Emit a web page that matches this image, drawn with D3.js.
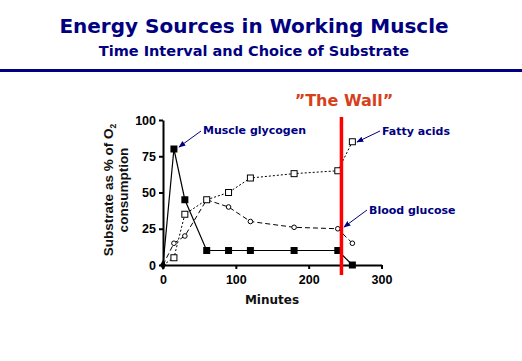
<!DOCTYPE html>
<html>
<head>
<meta charset="utf-8">
<script src="https://cdn.jsdelivr.net/npm/d3@7"></script>
<style>
  body { margin: 0; background: #fff; }
  svg { display: block; }
</style>
</head>
<body>
<div id="chart"></div>
<script>
const width = 522, height = 361;

// time points (minutes)
const minutes = [0, 15, 30, 60, 90, 120, 180, 240, 260];
const muscleGlycogen = [0, 80, 45, 10, 10, 10, 10, 10, 0];
const fattyAcids = [0, 5, 35, 45, 50, 60, 63, 65, 85];
const bloodGlucose = [0, 15, 20, 45, 40, 30, 26, 25, 15];
const xTicks = [0, 100, 200, 300];
const yTicks = [0, 25, 50, 75, 100];
const wallMinute = 245;

const svg = d3.select("#chart")
  .append("svg")
    .attr("width", width)
    .attr("height", height)
    .attr("viewBox", [0, 0, width, height]);

// header
svg.append("text")
  .attr("x", 254).attr("y", 33)
  .attr("text-anchor", "middle")
  .attr("font-family", "DejaVu Sans, Verdana, sans-serif")
  .attr("font-weight", "bold")
  .attr("font-size", 20)
  .attr("fill", "#000080")
  .text("Energy Sources in Working Muscle");

svg.append("text")
  .attr("x", 254).attr("y", 56)
  .attr("text-anchor", "middle")
  .attr("font-family", "DejaVu Sans, Verdana, sans-serif")
  .attr("font-weight", "bold")
  .attr("font-size", 14.5)
  .attr("fill", "#000080")
  .text("Time Interval and Choice of Substrate");

svg.append("rect")
  .attr("x", 0).attr("y", 69)
  .attr("width", width).attr("height", 3)
  .attr("fill", "#000080");

const xScale = d3.scaleLinear()
  .domain([0, 300])
  .range([163, 381.5]);

const yScale = d3.scaleLinear()
  .domain([0, 100])
  .range([265, 120]);

const axisFont = "Liberation Sans, Arial, sans-serif";

// axes
const bottomAxis = d3.axisBottom(xScale)
  .tickValues(xTicks)
  .tickSize(4)
  .tickSizeOuter(0);

const gx = svg.append("g")
  .attr("transform", `translate(0, ${yScale(0)})`)
  .call(bottomAxis);

const leftAxis = d3.axisLeft(yScale)
  .tickValues(yTicks)
  .tickSize(4)
  .tickSizeOuter(0);

const gy = svg.append("g")
  .attr("transform", `translate(${xScale(0)}, 0)`)
  .call(leftAxis);

[gx, gy].forEach(g => {
  g.select(".domain").attr("stroke", "#000").attr("stroke-width", 2);
  g.selectAll(".tick line").attr("stroke", "#000").attr("stroke-width", 2);
  g.selectAll(".tick text")
    .attr("font-family", axisFont)
    .attr("font-weight", "bold")
    .attr("font-size", 12.5)
    .attr("fill", "#000");
});
gx.selectAll(".tick text").attr("dy", "0.95em");
gy.selectAll(".tick text").attr("x", -7);

svg.append("text")
  .attr("x", 272).attr("y", 304)
  .attr("text-anchor", "middle")
  .attr("font-family", "DejaVu Sans, Verdana, sans-serif")
  .attr("font-weight", "bold")
  .attr("font-size", 12)
  .attr("fill", "#111")
  .text("Minutes");

// y title, two lines
const yTitle = svg.append("text")
  .attr("transform", "translate(113, 190) rotate(-90)")
  .attr("text-anchor", "middle")
  .attr("font-family", axisFont)
  .attr("font-weight", "bold")
  .attr("font-size", 13.5)
  .attr("fill", "#111");
yTitle.append("tspan").attr("x", 0).attr("y", 0).text("Substrate as % of O");
yTitle.append("tspan").attr("font-size", 8.5).attr("dy", 3).text("2");
yTitle.append("tspan").attr("x", 0).attr("y", 15).text("consumption");

// lines
const rows = minutes.map((m, i) => ({
  m, glycogen: muscleGlycogen[i], fatty: fattyAcids[i], glucose: bloodGlucose[i]
}));

const lineFor = key => d3.line()
  .x(d => xScale(d.m))
  .y(d => yScale(d[key]));

svg.append("path")
  .datum(rows)
  .attr("d", lineFor("fatty"))
  .attr("fill", "none")
  .attr("stroke", "#000")
  .attr("stroke-width", 1)
  .attr("stroke-dasharray", "2,2");

svg.append("path")
  .datum(rows)
  .attr("d", lineFor("glucose"))
  .attr("fill", "none")
  .attr("stroke", "#000")
  .attr("stroke-width", 1)
  .attr("stroke-dasharray", "5,3");

svg.append("path")
  .datum(rows)
  .attr("d", lineFor("glycogen"))
  .attr("fill", "none")
  .attr("stroke", "#000")
  .attr("stroke-width", 1.2);

// markers
svg.selectAll(".glucose-pt")
  .data(rows.slice(1))
  .join("circle")
    .attr("class", "glucose-pt")
    .attr("cx", d => xScale(d.m))
    .attr("cy", d => yScale(d.glucose))
    .attr("r", 2.3)
    .attr("fill", "#fff")
    .attr("stroke", "#000")
    .attr("stroke-width", 1);

svg.selectAll(".fatty-pt")
  .data(rows.slice(1))
  .join("rect")
    .attr("class", "fatty-pt")
    .attr("x", d => xScale(d.m) - 3)
    .attr("y", d => yScale(d.fatty) - 3)
    .attr("width", 6)
    .attr("height", 6)
    .attr("fill", "#fff")
    .attr("stroke", "#000")
    .attr("stroke-width", 1);

svg.selectAll(".glycogen-pt")
  .data(rows.slice(1))
  .join("rect")
    .attr("class", "glycogen-pt")
    .attr("x", d => xScale(d.m) - 3.5)
    .attr("y", d => yScale(d.glycogen) - 3.5)
    .attr("width", 7)
    .attr("height", 7)
    .attr("fill", "#000");

// origin point
svg.append("path")
  .attr("d", d3.symbol(d3.symbolDiamond, 30)())
  .attr("transform", `translate(${xScale(0)}, ${yScale(0)})`)
  .attr("fill", "#000");

// the wall
svg.append("line")
  .attr("x1", xScale(wallMinute)).attr("x2", xScale(wallMinute))
  .attr("y1", 117).attr("y2", 275)
  .attr("stroke", "#ff0000")
  .attr("stroke-width", 3.5);

svg.append("text")
  .attr("x", 344).attr("y", 106)
  .attr("text-anchor", "middle")
  .attr("font-family", "DejaVu Sans, Verdana, sans-serif")
  .attr("font-weight", "bold")
  .attr("font-size", 16)
  .attr("fill", "#d8401a")
  .text("\u201DThe Wall\u201D");

// annotations with arrows
svg.append("defs").append("marker")
  .attr("id", "arrow")
  .attr("viewBox", "0 0 10 10")
  .attr("refX", 9).attr("refY", 5)
  .attr("markerWidth", 7).attr("markerHeight", 7)
  .attr("orient", "auto")
  .append("path")
    .attr("d", "M0,1 L10,5 L0,9 Z")
    .attr("fill", "#000080");

const notes = [
  { label: "Muscle glycogen", tx: 203, ty: 134, ax: 201, ay: 131, hx: 179, hy: 147 },
  { label: "Fatty acids", tx: 382, ty: 135, ax: 380, ay: 131, hx: 357, hy: 142 },
  { label: "Blood glucose", tx: 369, ty: 214, ax: 367, ay: 210, hx: 344, hy: 227 }
];

notes.forEach(n => {
  svg.append("line")
    .attr("x1", n.ax).attr("y1", n.ay)
    .attr("x2", n.hx).attr("y2", n.hy)
    .attr("stroke", "#000080")
    .attr("stroke-width", 1)
    .attr("marker-end", "url(#arrow)");
  svg.append("text")
    .attr("x", n.tx).attr("y", n.ty)
    .attr("font-family", "DejaVu Sans, Verdana, sans-serif")
    .attr("font-weight", "bold")
    .attr("font-size", 11)
    .attr("fill", "#000080")
    .text(n.label);
});
</script>
</body>
</html>
